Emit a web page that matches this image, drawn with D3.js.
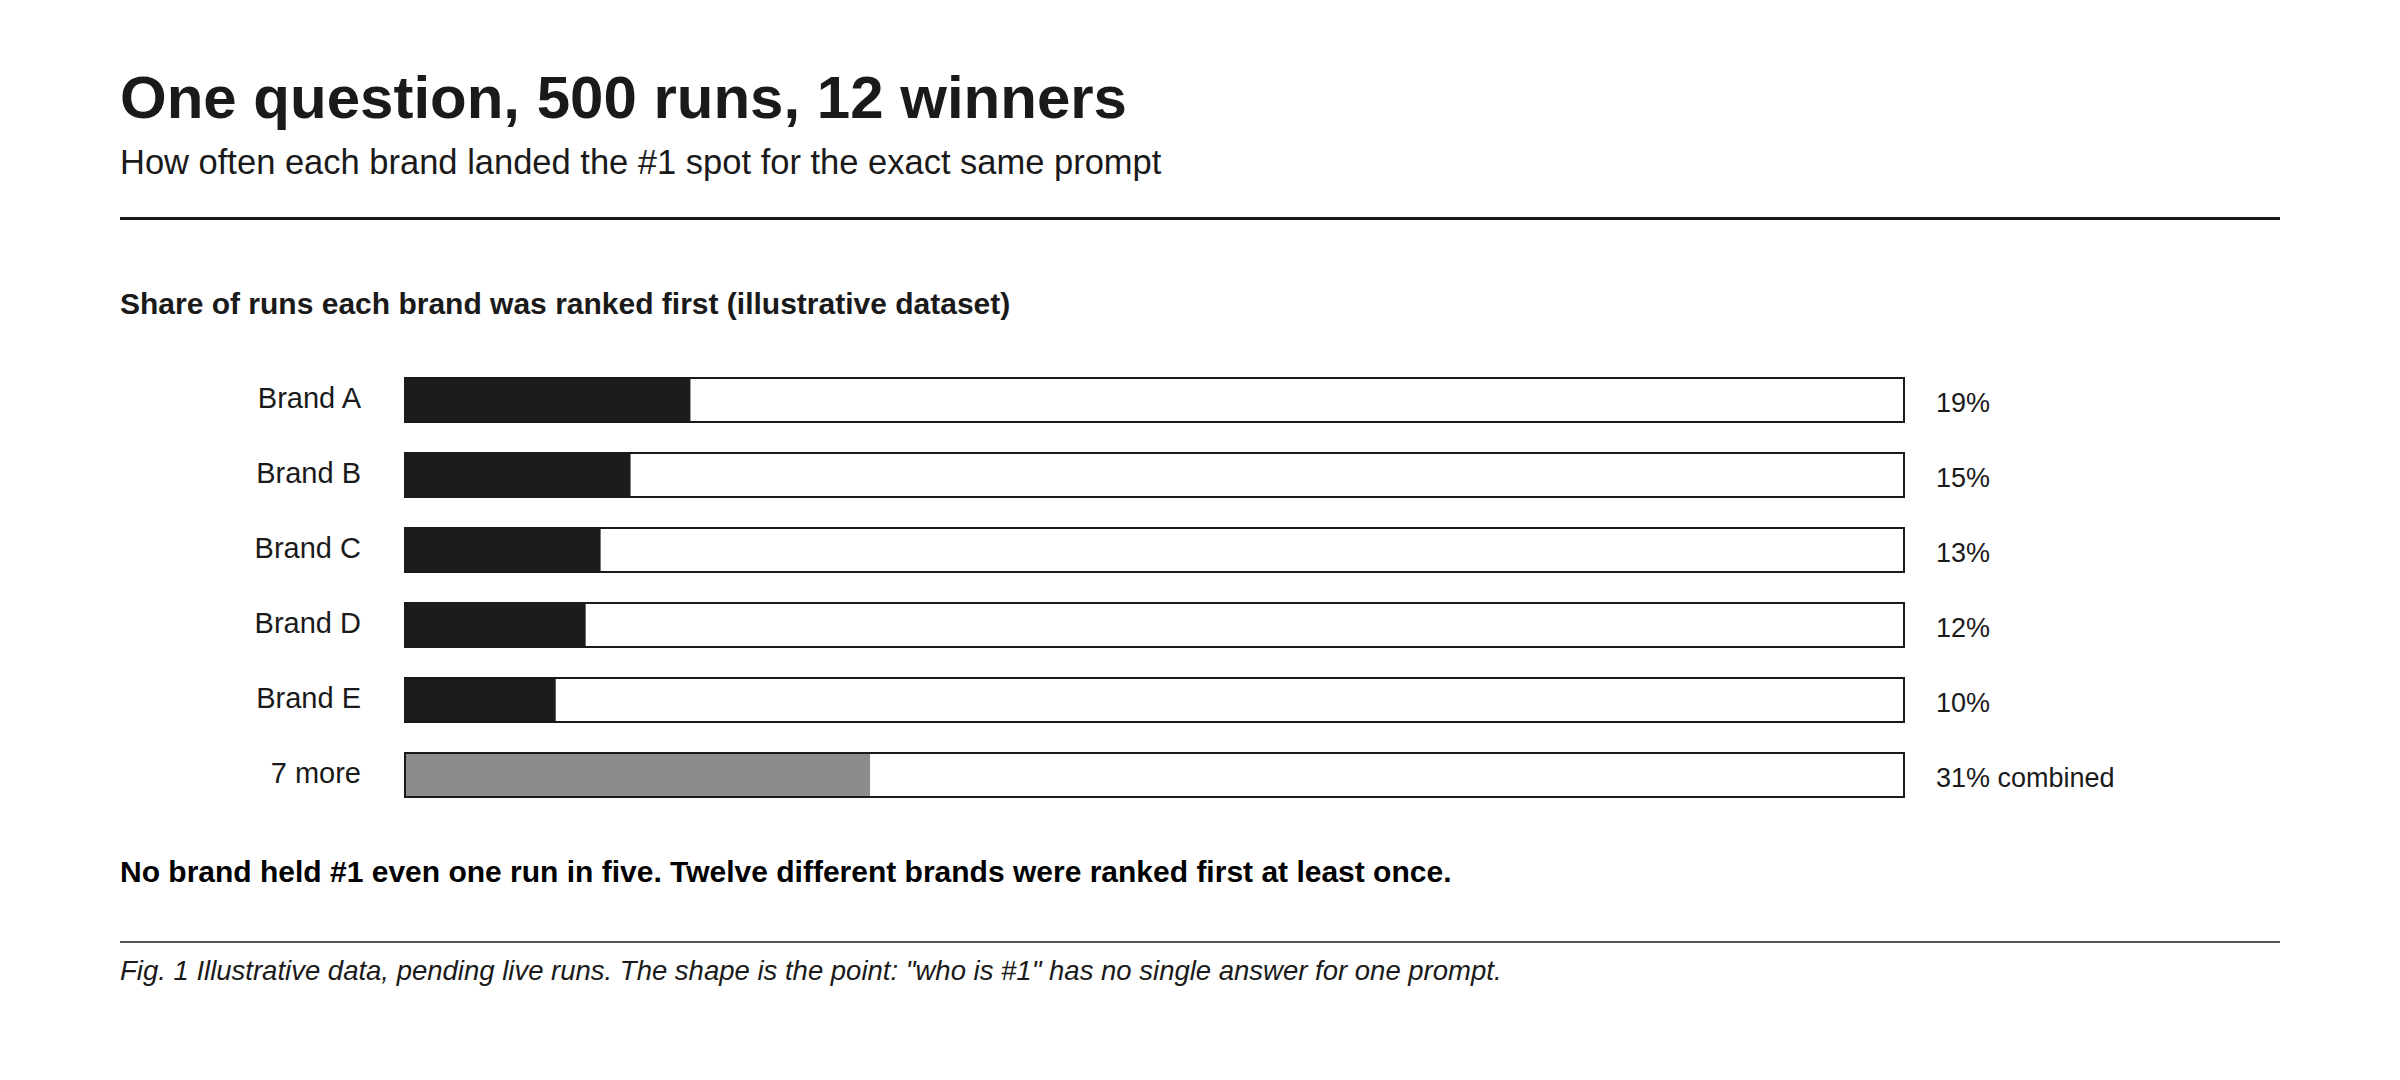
<!DOCTYPE html>
<html>
<head>
<meta charset="utf-8">
<script src="https://cdn.jsdelivr.net/npm/d3@7"></script>
<style>
    html, body { margin: 0; padding: 0; background: #fff; }
    svg { display: block; font-family: "Liberation Sans", Arial, sans-serif; }
</style>
</head>
<body>
<svg id="chart" width="2400" height="1080"></svg>
<script>
// values
var brands = ["Brand A", "Brand B", "Brand C", "Brand D", "Brand E", "7 more"];
var shares = [19, 15, 13, 12, 10, 31];
var shareLabels = ["19%", "15%", "13%", "12%", "10%", "31% combined"];

var width = 2400,
    height = 1080,
    left = 120,
    right = 2280;

var svg = d3.select("#chart")
    .attr("width", width)
    .attr("height", height);

// header
svg.append("text")
    .attr("x", left)
    .attr("y", 118)
    .attr("font-size", 60)
    .attr("font-weight", "bold")
    .attr("fill", "#1a1a1a")
    .text("One question, 500 runs, 12 winners");

svg.append("text")
    .attr("x", left)
    .attr("y", 174)
    .attr("font-size", 34.5)
    .attr("fill", "#1a1a1a")
    .text("How often each brand landed the #1 spot for the exact same prompt");

svg.append("line")
    .attr("x1", left).attr("x2", right)
    .attr("y1", 218.5).attr("y2", 218.5)
    .attr("stroke", "#1a1a1a")
    .attr("stroke-width", 3);

svg.append("text")
    .attr("x", left)
    .attr("y", 314)
    .attr("font-size", 30)
    .attr("font-weight", "bold")
    .attr("fill", "#1a1a1a")
    .text("Share of runs each brand was ranked first (illustrative dataset)");

// bars
var trackLeft = 404,
    trackRight = 1905,
    border = 2;

var x = d3.scaleLinear()
    .domain([0, 100])
    .range([trackLeft + border, trackRight - border]);

var y = d3.scaleBand()
    .domain(brands)
    .range([377, 798])
    .paddingInner(29 / 75)
    .paddingOuter(0);

var rows = svg.selectAll(".row")
    .data(brands)
    .enter().append("g")
    .attr("class", "row")
    .attr("transform", function (d) { return "translate(0," + y(d) + ")"; });

rows.append("rect")
    .attr("x", trackLeft + border / 2)
    .attr("y", border / 2)
    .attr("width", trackRight - trackLeft - border)
    .attr("height", y.bandwidth() - border)
    .attr("fill", "#fff")
    .attr("stroke", "#1a1a1a")
    .attr("stroke-width", border);

rows.append("rect")
    .attr("x", x(0))
    .attr("y", border)
    .attr("width", function (d, i) { return x(shares[i]) - x(0); })
    .attr("height", y.bandwidth() - border * 2)
    .attr("fill", function (d, i) { return i === brands.length - 1 ? "#8c8c8c" : "#1c1c1c"; });

rows.append("text")
    .attr("x", 361)
    .attr("y", y.bandwidth() / 2 - 1)
    .attr("dy", "0.32em")
    .attr("text-anchor", "end")
    .attr("font-size", 29)
    .attr("fill", "#1a1a1a")
    .text(function (d) { return d; });

rows.append("text")
    .attr("x", trackRight + 31)
    .attr("y", y.bandwidth() / 2 + 3)
    .attr("dy", "0.35em")
    .attr("font-size", 27)
    .attr("fill", "#1a1a1a")
    .text(function (d, i) { return shareLabels[i]; });

// takeaway + footer
svg.append("text")
    .attr("x", left)
    .attr("y", 882)
    .attr("font-size", 30)
    .attr("font-weight", "bold")
    .attr("fill", "#000")
    .text("No brand held #1 even one run in five. Twelve different brands were ranked first at least once.");

svg.append("line")
    .attr("x1", left).attr("x2", right)
    .attr("y1", 942).attr("y2", 942)
    .attr("stroke", "#555")
    .attr("stroke-width", 2);

svg.append("text")
    .attr("x", left)
    .attr("y", 980)
    .attr("font-size", 27.5)
    .attr("font-style", "italic")
    .attr("fill", "#1a1a1a")
    .text("Fig. 1 Illustrative data, pending live runs. The shape is the point: \"who is #1\" has no single answer for one prompt.");
</script>
</body>
</html>
